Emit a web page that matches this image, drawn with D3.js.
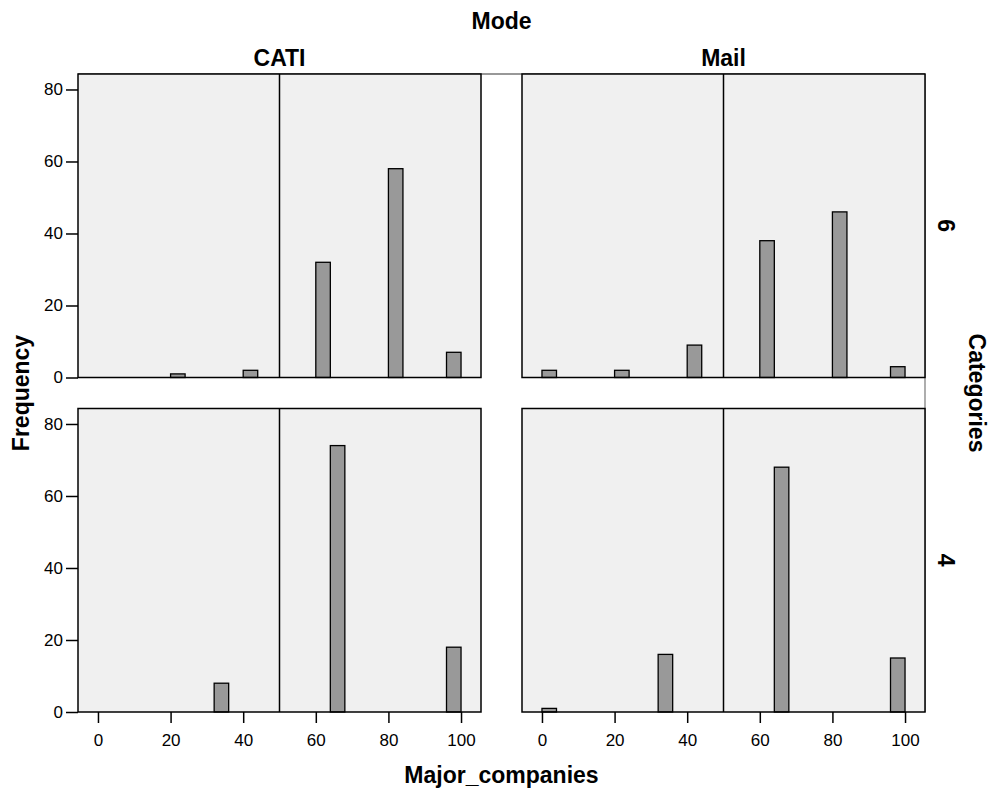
<!DOCTYPE html>
<html>
<head>
<meta charset="utf-8">
<script src="https://cdn.jsdelivr.net/npm/d3@7"></script>
<style>
  body { margin: 0; background: #fff; }
  svg text { font-family: Arial, "Liberation Sans", sans-serif; fill: #000; }
  .tick text { font-size: 17px; }
  .title { font-size: 23px; font-weight: bold; }
</style>
</head>
<body>
<svg id="chart" width="989" height="788"></svg>
<script>
// column facet (Mode) and row facet (Categories)
var modes = ["CATI", "Mail"];
var categories = ["6", "4"];

// observed values of Major_companies per row
var values6 = [0, 20, 40, 60, 80, 100];
var values4 = [0, 33.33, 66.67, 100];

// frequencies
var cati6 = [0, 1, 2, 32, 58, 7];
var mail6 = [2, 2, 9, 38, 46, 3];
var cati4 = [0, 8, 74, 18];
var mail4 = [1, 16, 68, 15];

var xTicks = [0, 20, 40, 60, 80, 100];
var yTicks = [0, 20, 40, 60, 80];
var refLine = 50;

var panels = [
  {mode: "CATI", cat: "6", values: values6, counts: cati6, col: 0, row: 0},
  {mode: "Mail", cat: "6", values: values6, counts: mail6, col: 1, row: 0},
  {mode: "CATI", cat: "4", values: values4, counts: cati4, col: 0, row: 1},
  {mode: "Mail", cat: "4", values: values4, counts: mail4, col: 1, row: 1}
];

var svg = d3.select("#chart");

var colX = [78, 522];
var rowY = [74, 408.5];
var pw = 403, ph = 303.5;

var x = d3.scaleLinear().domain([-5.5, 105.5]).range([0, pw]);
var y = d3.scaleLinear().domain([0, 84.3]).range([ph, 0]);

var binner = d3.bin()
  .value(function(d) { return d.v; })
  .domain([0, 100])
  .thresholds(d3.range(4, 100, 4));

// outer frame (top + right edges) drawn first, panels cover the rest
svg.append("line")
  .attr("x1", colX[0]).attr("x2", colX[1] + pw)
  .attr("y1", rowY[0]).attr("y2", rowY[0])
  .attr("stroke", "#333").attr("stroke-width", 1.2);
svg.append("line")
  .attr("x1", colX[1] + pw).attr("x2", colX[1] + pw)
  .attr("y1", rowY[0]).attr("y2", rowY[1] + ph)
  .attr("stroke", "#777").attr("stroke-width", 1.2);

panels.forEach(function(p) {
  var g = svg.append("g")
    .attr("transform", "translate(" + colX[p.col] + "," + rowY[p.row] + ")");

  g.append("rect")
    .attr("width", pw).attr("height", ph)
    .attr("fill", "#f0f0f0");

  var rows = p.values.map(function(v, i) { return {v: v, n: p.counts[i]}; });
  var bins = binner(rows).map(function(b) {
    return {x0: b.x0, x1: b.x1, n: d3.sum(b, function(d) { return d.n; })};
  }).filter(function(b) { return b.n > 0; });

  g.selectAll(".bar")
    .data(bins)
    .enter()
    .append("rect")
    .attr("class", "bar")
    .attr("x", function(d) { return x(d.x0); })
    .attr("width", function(d) { return x(d.x1) - x(d.x0); })
    .attr("y", function(d) { return y(d.n); })
    .attr("height", function(d) { return y(0) - y(d.n); })
    .attr("fill", "#999999")
    .attr("stroke", "#000")
    .attr("stroke-width", 1.3);

  g.append("line")
    .attr("x1", x(refLine)).attr("x2", x(refLine))
    .attr("y1", 0).attr("y2", ph)
    .attr("stroke", "#000").attr("stroke-width", 1.5);

  g.append("rect")
    .attr("width", pw).attr("height", ph)
    .attr("fill", "none")
    .attr("stroke", "#000").attr("stroke-width", 1.5);

  if (p.col === 0) {
    var ya = g.append("g")
      .call(d3.axisLeft(y).tickValues(yTicks).tickSize(12).tickPadding(3));
    ya.select(".domain").remove();
    ya.selectAll(".tick line").attr("stroke", "#000").attr("stroke-width", 1.5);
  }
  if (p.row === 1) {
    var xa = g.append("g")
      .attr("transform", "translate(0," + ph + ")")
      .call(d3.axisBottom(x).tickValues(xTicks).tickSize(11).tickPadding(11));
    xa.select(".domain").remove();
    xa.selectAll(".tick line").attr("stroke", "#000").attr("stroke-width", 1.5);
  }
});

// facet labels
svg.append("text").attr("class", "title")
  .attr("x", (colX[0] + colX[1] + pw) / 2).attr("y", 29)
  .attr("text-anchor", "middle").text("Mode");

svg.selectAll(".colLabel")
  .data(modes)
  .enter()
  .append("text")
  .attr("class", "title colLabel")
  .attr("x", function(d, i) { return colX[i] + pw / 2; })
  .attr("y", 66)
  .attr("text-anchor", "middle")
  .text(function(d) { return d; });

svg.selectAll(".rowLabel")
  .data(categories)
  .enter()
  .append("text")
  .attr("class", "title rowLabel")
  .attr("text-anchor", "middle")
  .attr("transform", function(d, i) {
    return "translate(938," + (rowY[i] + ph / 2) + ") rotate(90)";
  })
  .text(function(d) { return d; });

svg.append("text").attr("class", "title")
  .attr("text-anchor", "middle")
  .attr("transform", "translate(969," + (rowY[0] + (rowY[1] + ph - rowY[0]) / 2) + ") rotate(90)")
  .text("Categories");

svg.append("text").attr("class", "title")
  .attr("text-anchor", "middle")
  .attr("transform", "translate(29," + (rowY[0] + (rowY[1] + ph - rowY[0]) / 2) + ") rotate(-90)")
  .text("Frequency");

svg.append("text").attr("class", "title")
  .attr("x", (colX[0] + colX[1] + pw) / 2).attr("y", 783)
  .attr("text-anchor", "middle").text("Major_companies");
</script>
</body>
</html>
